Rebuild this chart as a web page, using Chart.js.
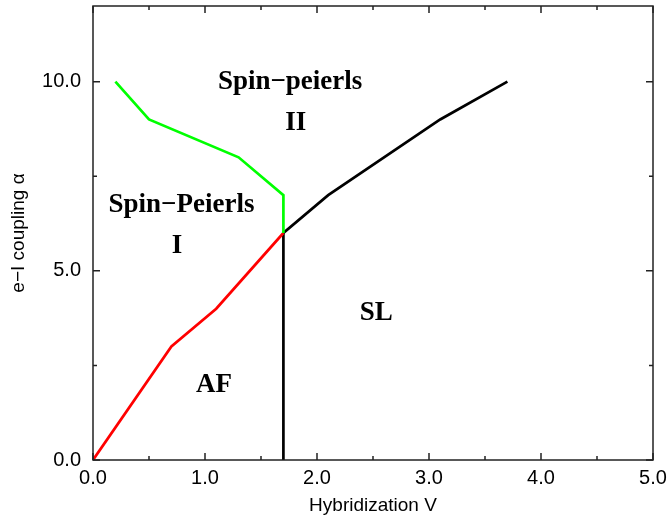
<!DOCTYPE html>
<html>
<head>
<meta charset="utf-8">
<script src="https://cdn.jsdelivr.net/npm/chart.js@4/dist/chart.umd.min.js"></script>
<style>
  html, body { margin: 0; padding: 0; background: #fff; }
  #wrap { width: 668px; height: 519px; }
</style>
</head>
<body>
<div id="wrap"><canvas id="chart" width="668" height="519"></canvas></div>
<script>
// phase boundaries (V, alpha)
const greenV = [0.2, 0.5, 1.3, 1.7, 1.7];
const greenA = [10, 9, 8, 7, 6];
const redV = [0, 0.7, 1.1, 1.7];
const redA = [0, 3, 4, 6];
const blackV = [1.7, 1.7, 2.1, 3.1, 3.7];
const blackA = [0, 6, 7, 9, 10];

// region names
const regionNames = ['Spin\u2212peierls', 'II', 'Spin\u2212Peierls', 'I', 'SL', 'AF'];
const regionV = [1.76, 1.81, 0.79, 0.75, 2.53, 1.08];
const regionA = [10.0, 8.9, 6.74, 5.66, 3.88, 1.98];

function pts(xs, ys) {
  return xs.map((x, i) => ({ x: x, y: ys[i] }));
}

// frame with inward ticks on all four sides + region labels
const framePlugin = {
  id: 'frame',
  afterDatasetsDraw(chart) {
    const ctx = chart.ctx;
    const a = chart.chartArea;
    const xs = chart.scales.x, ys = chart.scales.y;
    ctx.save();
    ctx.strokeStyle = '#222';
    ctx.lineWidth = 1.5;
    ctx.strokeRect(a.left, a.top, a.right - a.left, a.bottom - a.top);
    ctx.beginPath();
    for (let v = 0; v <= 5.001; v += 0.5) {
      const px = xs.getPixelForValue(v);
      const len = Math.abs(v - Math.round(v)) < 0.01 ? 7 : 4;
      ctx.moveTo(px, a.bottom); ctx.lineTo(px, a.bottom - len);
      ctx.moveTo(px, a.top); ctx.lineTo(px, a.top + len);
    }
    for (let v = 0; v <= 12; v += 2.5) {
      const py = ys.getPixelForValue(v);
      const len = v % 5 === 0 ? 7 : 4;
      ctx.moveTo(a.left, py); ctx.lineTo(a.left + len, py);
      ctx.moveTo(a.right, py); ctx.lineTo(a.right - len, py);
    }
    ctx.stroke();

    ctx.fillStyle = '#000';
    ctx.font = 'bold 27px "Liberation Serif", "DejaVu Serif", serif';
    ctx.textAlign = 'center';
    ctx.textBaseline = 'middle';
    regionNames.forEach((t, i) => {
      ctx.fillText(t, xs.getPixelForValue(regionV[i]), ys.getPixelForValue(regionA[i]));
    });
    ctx.restore();
  }
};

const tickFont = { family: '"Liberation Sans", Arial, sans-serif', size: 20 };

new Chart(document.getElementById('chart'), {
  type: 'scatter',
  data: {
    datasets: [
      { data: pts(greenV, greenA), borderColor: '#00ff00', borderWidth: 2.7, showLine: true, pointRadius: 0 },
      { data: pts(redV, redA), borderColor: '#ff0000', borderWidth: 2.7, showLine: true, pointRadius: 0 },
      { data: pts(blackV, blackA), borderColor: '#000000', borderWidth: 2.7, showLine: true, pointRadius: 0 }
    ]
  },
  options: {
    responsive: false,
    animation: false,
    layout: { padding: { top: 6, right: 15, left: 0, bottom: 0 } },
    plugins: { legend: { display: false }, tooltip: { enabled: false } },
    scales: {
      x: {
        type: 'linear', min: 0, max: 5,
        grid: { display: false, drawTicks: false },
        border: { display: false },
        ticks: {
          stepSize: 1, padding: 6, color: '#000', font: tickFont,
          maxRotation: 0,
          callback: v => v.toFixed(1)
        },
        title: {
          display: true, text: 'Hybridization V', color: '#000',
          font: { family: '"Liberation Sans", Arial, sans-serif', size: 19 },
          padding: { top: 0, bottom: 2 }
        },
        afterFit: s => { s.height = 59; s.paddingLeft = 0; s.paddingRight = 0; }
      },
      y: {
        type: 'linear', min: 0, max: 12,
        grid: { display: false, drawTicks: false },
        border: { display: false },
        ticks: {
          stepSize: 2.5, padding: 12, color: '#000', font: tickFont,
          callback: v => (v % 5 === 0 ? v.toFixed(1) : '')
        },
        title: {
          display: true, text: 'e\u2212I coupling \u03b1', color: '#000',
          font: { family: '"Liberation Sans", Arial, sans-serif', size: 19 },
          padding: { top: 7, bottom: 0 }
        },
        afterFit: s => { s.width = 93; s.paddingTop = 0; s.paddingBottom = 0; }
      }
    }
  },
  plugins: [framePlugin]
});
</script>
</body>
</html>
